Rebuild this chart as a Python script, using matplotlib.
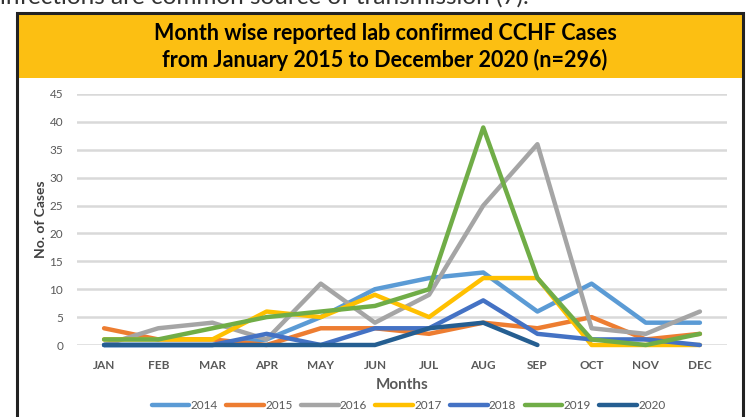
import matplotlib.pyplot as plt
from matplotlib.patches import Rectangle

months = ['JAN', 'FEB', 'MAR', 'APR', 'MAY', 'JUN', 'JUL', 'AUG', 'SEP', 'OCT', 'NOV', 'DEC']

cases_2014 = [0, 0, 0, 1, 5, 10, 12, 13, 6, 11, 4, 4]
cases_2015 = [3, 1, 1, 0, 3, 3, 2, 4, 3, 5, 1, 2]
cases_2016 = [0, 3, 4, 1, 11, 4, 9, 25, 36, 3, 2, 6]
cases_2017 = [1, 1, 1, 6, 5, 9, 5, 12, 12, 0, 0, 0]
cases_2018 = [0, 0, 0, 2, 0, 3, 3, 8, 2, 1, 1, 0]
cases_2019 = [1, 1, 3, 5, 6, 7, 10, 39, 12, 1, 0, 2]
cases_2020 = [0, 0, 0, 0, 0, 0, 3, 4, 0]  # data only up to SEP

series = [
    ('2014', cases_2014, '#5B9BD5'),
    ('2015', cases_2015, '#ED7D31'),
    ('2016', cases_2016, '#A5A5A5'),
    ('2017', cases_2017, '#FFC000'),
    ('2018', cases_2018, '#4472C4'),
    ('2019', cases_2019, '#70AD47'),
    ('2020', cases_2020, '#255E91'),
]

plt.rcParams['font.family'] = ['Lato', 'DejaVu Sans']

fig = plt.figure(figsize=(7.51, 4.17), dpi=100)
W, H = 751, 417

# cut-off line of text from the page above the chart
fig.text(0.0, 1.0 + 3 / H, 'infections are common source of transmission (7).',
         fontsize=17.5, color='#333333', ha='left', va='center')

# orange title band and outer frame
fig.add_artist(Rectangle((17 / W, 1 - 78 / H), (743 - 17) / W, (78 - 13) / H,
                         transform=fig.transFigure, facecolor='#FCBF12', edgecolor='none'))
fig.add_artist(Rectangle((17 / W, -0.05), (743 - 17) / W, 1.05 - 13 / H,
                         transform=fig.transFigure, facecolor='none',
                         edgecolor='#222222', linewidth=2.2))

fig.text(385 / W, 1 - 33 / H, 'Month wise reported lab confirmed CCHF Cases',
         fontsize=15.5, fontweight='bold', ha='center', va='center', color='black')
fig.text(385 / W, 1 - 60 / H, 'from January 2015 to December 2020 (n=296)',
         fontsize=15.5, fontweight='bold', ha='center', va='center', color='black')

ax = fig.add_axes([77 / W, 1 - 345 / H, (727 - 77) / W, (345 - 94) / H])
x = list(range(len(months)))
for label, vals, color in series:
    ax.plot(x[:len(vals)], vals, color=color, linewidth=3.2, label=label,
            solid_capstyle='round', clip_on=False, zorder=3)

ax.set_xlim(-0.5, 11.5)
ax.set_ylim(0, 45)
ax.set_yticks(range(0, 46, 5))
ax.set_xticks(x)
ax.set_xticklabels(months, fontweight='bold', fontsize=8.5, color='#595959')
ax.tick_params(axis='y', labelsize=8.5, labelcolor='#595959', length=0, pad=10)
ax.tick_params(axis='x', length=0, pad=11)
ax.grid(axis='y', color='#D9D9D9', linewidth=1.8)
ax.set_axisbelow(True)
for s in ax.spines.values():
    s.set_visible(False)

ax.set_xlabel('Months', fontsize=11, fontweight='bold', color='#595959', labelpad=5)
ax.set_ylabel('No. of Cases', fontsize=10, fontweight='bold', color='#404040', labelpad=2)

ax.legend(loc='center', bbox_to_anchor=(0.51, -0.242), ncol=7, frameon=False,
          fontsize=8.5, handlelength=3.2, handletextpad=0.1, columnspacing=0.7,
          labelcolor='#595959')

fig.savefig('out.png', dpi=100)
